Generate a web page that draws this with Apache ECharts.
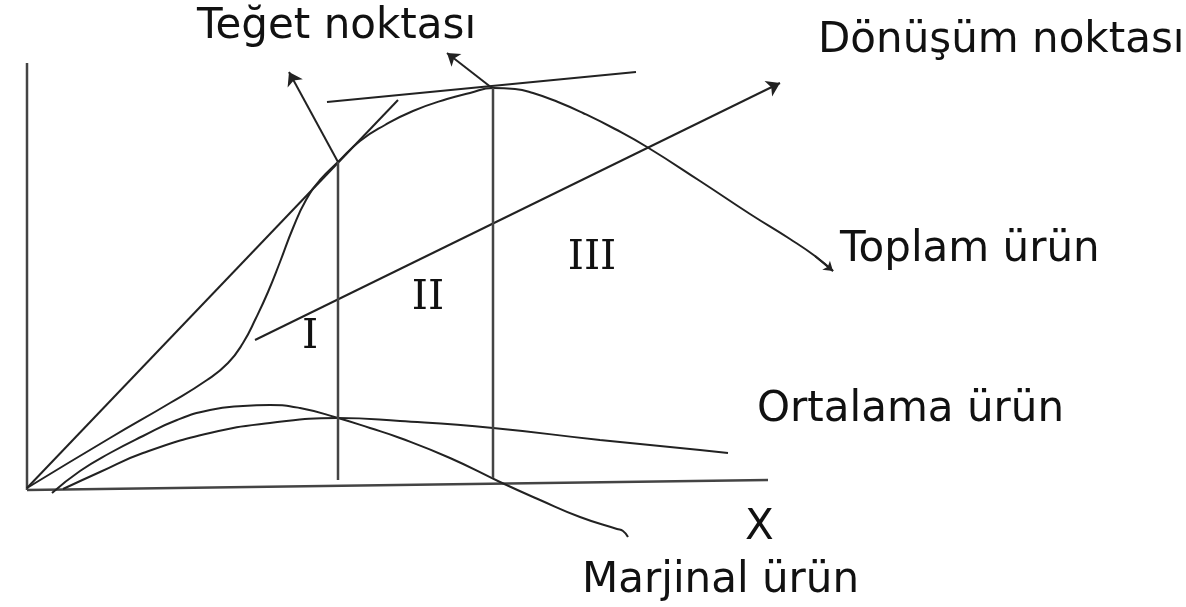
<!DOCTYPE html>
<html>
<head>
<meta charset="utf-8">
<script src="https://cdn.jsdelivr.net/npm/echarts@6/dist/echarts.min.js"></script>
<style>
  html, body { margin: 0; padding: 0; background: #fff; }
  #chart { width: 1186px; height: 607px; }
</style>
</head>
<body>
<div id="chart"></div>
<script>
// diagram units: origin at the corner of the two axes, y goes up
const yAxisLine = [[0, 427], [0, 0]];
const xAxisLine = [[0, 0], [741, 10]];

// ray from the origin, tangent to the total product curve
const tangentRay = [[0, 2], [371, 390]];
// flat tangent at the top of total product
const topTangent = [[300, 388], [609, 418]];

const totalProduct = [
  [0, 2], [83, 52], [143, 87], [180, 110], [201, 127], [216, 147], [229, 172],
  [241, 198], [253, 228], [266, 262], [279, 290], [293, 310], [311, 328],
  [333, 349], [358, 365], [386, 379], [420, 391], [443, 397], [466, 402],
  [488, 401], [506, 397], [531, 388], [556, 377], [588, 361], [620, 343],
  [673, 309], [723, 276], [763, 251], [788, 234], [806, 219]
];

const marginalProduct = [
  [25, -3], [53, 19], [83, 37], [116, 54], [150, 70], [183, 80], [216, 84],
  [243, 85], [273, 82], [311, 72], [343, 62], [373, 52], [423, 32], [473, 8],
  [513, -10], [553, -27], [590, -39], [596, -41], [601, -47]
];

const averageProduct = [
  [36, 1], [73, 18], [116, 37], [183, 57], [243, 67], [311, 72], [373, 69],
  [466, 62], [573, 50], [673, 40], [701, 37]
];

// stage borders
const stageLine1 = [[311, 328], [311, 10]];
const stageLine2 = [[466, 402], [466, 12]];

// arrows: [from, to]
const arrowTeget = [[311, 328], [262, 418]];
const arrowDonusum = [[465, 402], [420, 437]];
const arrowLong = [[228, 150], [753, 407]];
const arrowTotalEnd = [[788, 234], [806, 219]];

// labels
const labelNames = ['Teğet noktası', 'Dönüşüm noktası', 'Toplam ürün', 'Ortalama ürün', 'X', 'Marjinal ürün'];
const labelPos = [[170, 463], [791, 449], [813, 240], [730, 80], [718, -38], [555, -91]];
const stageNames = ['I', 'II', 'III'];
const stagePos = [[283, 153], [401, 192], [565, 232]];

const ink = '#222';

const chart = echarts.init(document.getElementById('chart'));

function curve(data, smooth, color, width) {
  return {
    type: 'line',
    data: data,
    smooth: smooth,
    showSymbol: false,
    clip: false,
    silent: true,
    lineStyle: { color: color || ink, width: width || 2 }
  };
}

function arrow(coords, size) {
  return {
    type: 'lines',
    coordinateSystem: 'cartesian2d',
    data: [{ coords: coords }],
    symbol: ['none', 'arrow'],
    symbolSize: size,
    silent: true,
    lineStyle: { color: ink, width: 2, opacity: 1 }
  };
}

function labels(names, pos, font, size, align) {
  return {
    type: 'scatter',
    symbolSize: 0,
    silent: true,
    itemStyle: { opacity: 1 },
    data: names.map((n, i) => ({ name: n, value: pos[i] })),
    label: {
      show: true,
      position: [0, 0],
      align: align,
      verticalAlign: 'middle',
      formatter: '{b}',
      fontFamily: font,
      fontSize: size,
      color: '#111',
      opacity: 1
    }
  };
}

const option = {
  animation: false,
  backgroundColor: '#fff',
  grid: { left: 0, right: 0, top: 0, bottom: 0 },
  xAxis: { type: 'value', min: -27, max: 1159, show: false },
  yAxis: { type: 'value', min: -117, max: 490, show: false },
  series: [
    curve(yAxisLine, false, '#444', 2.5),
    curve(xAxisLine, false, '#444', 2.5),
    curve(tangentRay, false),
    curve(topTangent, false),
    curve(totalProduct, 0.5),
    curve(marginalProduct, 0.5),
    curve(averageProduct, 0.5),
    curve(stageLine1, false, '#444', 2.5),
    curve(stageLine2, false, '#444', 2.5),
    arrow(arrowTeget, 13),
    arrow(arrowDonusum, 12),
    arrow(arrowLong, 13),
    arrow(arrowTotalEnd, 9),
    labels(labelNames, labelPos, 'DejaVu Sans', 42, 'left'),
    labels(stageNames, stagePos, 'DejaVu Serif', 41, 'center')
  ]
};

chart.setOption(option);
</script>
</body>
</html>
